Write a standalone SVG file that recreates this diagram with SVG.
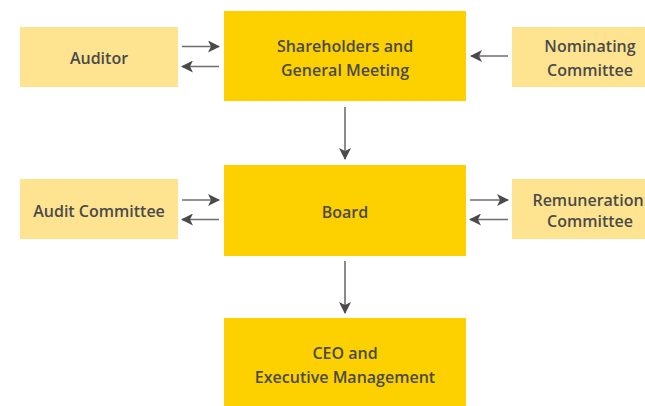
<svg xmlns="http://www.w3.org/2000/svg" width="645" height="406" viewBox="0 0 645 406">
  <style>
    .main { fill: #FDD000; }
    .side { fill: #FEE490; }
    .label { font-family: "Open Sans", Lato, "Liberation Sans", sans-serif; font-size: 16px; fill: #4A4A4A; text-anchor: middle; font-weight: 600; }
    .conn { stroke: #6E6E6E; stroke-width: 1.6; fill: none; marker-end: url(#arrow); }
  </style>
  <defs>
    <marker id="arrow" viewBox="0 0 12 12" refX="11" refY="6" markerWidth="12" markerHeight="12" markerUnits="userSpaceOnUse" orient="auto">
      <path d="M0,0 L12,6 L0,12 L3,6 Z" fill="#4A4A4A"/>
    </marker>
  </defs>
  <rect width="645" height="406" fill="#FFFFFF"/>

  <g id="auditor">
    <rect class="side" x="20" y="27" width="158" height="60"/>
    <text class="label" x="99" y="64">Auditor</text>
  </g>
  <g id="shareholders">
    <rect class="main" x="224" y="11" width="242" height="90"/>
    <text class="label" x="345" y="52">Shareholders and</text>
    <text class="label" x="345" y="76">General Meeting</text>
  </g>
  <g id="nominating">
    <rect class="side" x="512" y="27" width="140" height="60"/>
    <text class="label" x="590" y="52">Nominating</text>
    <text class="label" x="590" y="76">Committee</text>
  </g>
  <g id="audit-committee">
    <rect class="side" x="20" y="179" width="158" height="60"/>
    <text class="label" x="99" y="217">Audit Committee</text>
  </g>
  <g id="board">
    <rect class="main" x="224" y="165" width="242" height="91"/>
    <text class="label" x="345" y="218">Board</text>
  </g>
  <g id="remuneration">
    <rect class="side" x="512" y="179" width="140" height="60"/>
    <text class="label" x="588" y="206">Remuneration</text>
    <text class="label" x="590" y="227">Committee</text>
  </g>
  <g id="ceo">
    <rect class="main" x="224" y="318" width="242" height="88"/>
    <text class="label" x="345" y="359">CEO and</text>
    <text class="label" x="345" y="383">Executive Management</text>
  </g>

  <g id="connectors">
    <line class="conn" x1="182" y1="46.5" x2="219" y2="46.5"/>
    <line class="conn" x1="219" y1="66.5" x2="182" y2="66.5"/>
    <line class="conn" x1="508" y1="56" x2="471" y2="56"/>
    <line class="conn" x1="345" y1="107" x2="345" y2="159"/>
    <line class="conn" x1="182" y1="200" x2="219" y2="200"/>
    <line class="conn" x1="219" y1="219.5" x2="182" y2="219.5"/>
    <line class="conn" x1="470" y1="200" x2="508" y2="200"/>
    <line class="conn" x1="508" y1="219.5" x2="470" y2="219.5"/>
    <line class="conn" x1="345" y1="261" x2="345" y2="313"/>
  </g>
</svg>
